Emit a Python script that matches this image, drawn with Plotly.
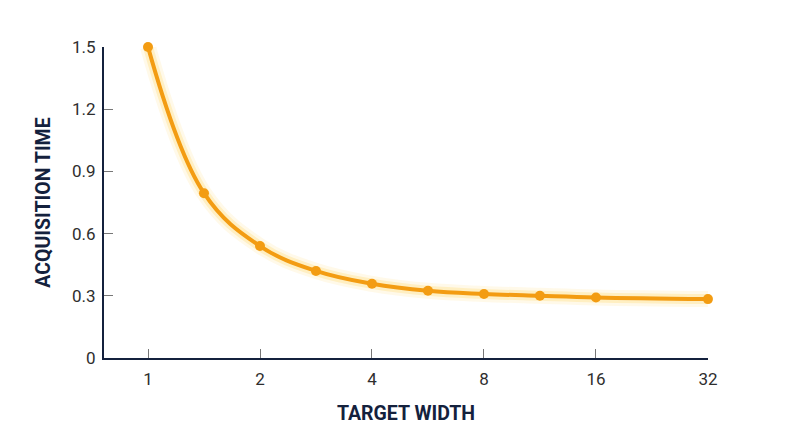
import plotly.graph_objects as go

target_width = [1, 1.414, 2, 2.828, 4, 5.657, 8, 11.31, 16, 32]
acquisition_time = [1.5, 0.795, 0.54, 0.42, 0.358, 0.324, 0.309, 0.30, 0.292, 0.284]
x_ticks = [1, 2, 4, 8, 16, 32]
y_ticks = [0, 0.3, 0.6, 0.9, 1.2, 1.5]

orange = "#F39C12"
navy = "#14213D"

fig = go.Figure()
# soft glow under the line
for w, a in [(16, 0.10), (10, 0.20)]:
    fig.add_trace(go.Scatter(
        x=target_width, y=acquisition_time, mode="lines",
        line=dict(color=f"rgba(255,200,40,{a})", width=w, shape="spline", smoothing=1.1),
        hoverinfo="skip", showlegend=False, cliponaxis=False))
fig.add_trace(go.Scatter(
    x=target_width, y=acquisition_time, mode="lines+markers",
    line=dict(color=orange, width=4, shape="spline", smoothing=1.1),
    marker=dict(color=orange, size=10),
    showlegend=False, cliponaxis=False))

fig.update_layout(
    width=792, height=439,
    margin=dict(l=96, r=92, t=39, b=89),
    plot_bgcolor="white", paper_bgcolor="white",
    font=dict(family="Roboto", color="#2e2e2e", size=17),
)
fig.update_xaxes(
    type="log", range=[-0.1183, 1.5053],
    tickvals=x_ticks, ticktext=[str(v) for v in x_ticks],
    showgrid=False, zeroline=False,
    showline=True, linecolor=navy, linewidth=2,
    ticks="inside", ticklen=9, tickcolor="#777777", tickwidth=1,
    ticklabelstandoff=5,
    title=dict(text="<b>TARGET WIDTH</b>", font=dict(size=19.5, color=navy), standoff=18),
)
fig.update_yaxes(
    range=[0, 1.5], tickvals=y_ticks, ticktext=["0", "0.3", "0.6", "0.9", "1.2", "1.5"],
    showgrid=False, zeroline=False,
    showline=True, linecolor=navy, linewidth=2,
    ticks="inside", ticklen=9, tickcolor="#777777", tickwidth=1,
    ticklabelstandoff=3,
    title=dict(text="<b>ACQUISITION TIME</b>", font=dict(size=19.5, color=navy), standoff=16),
)

fig.write_html("out.html")
